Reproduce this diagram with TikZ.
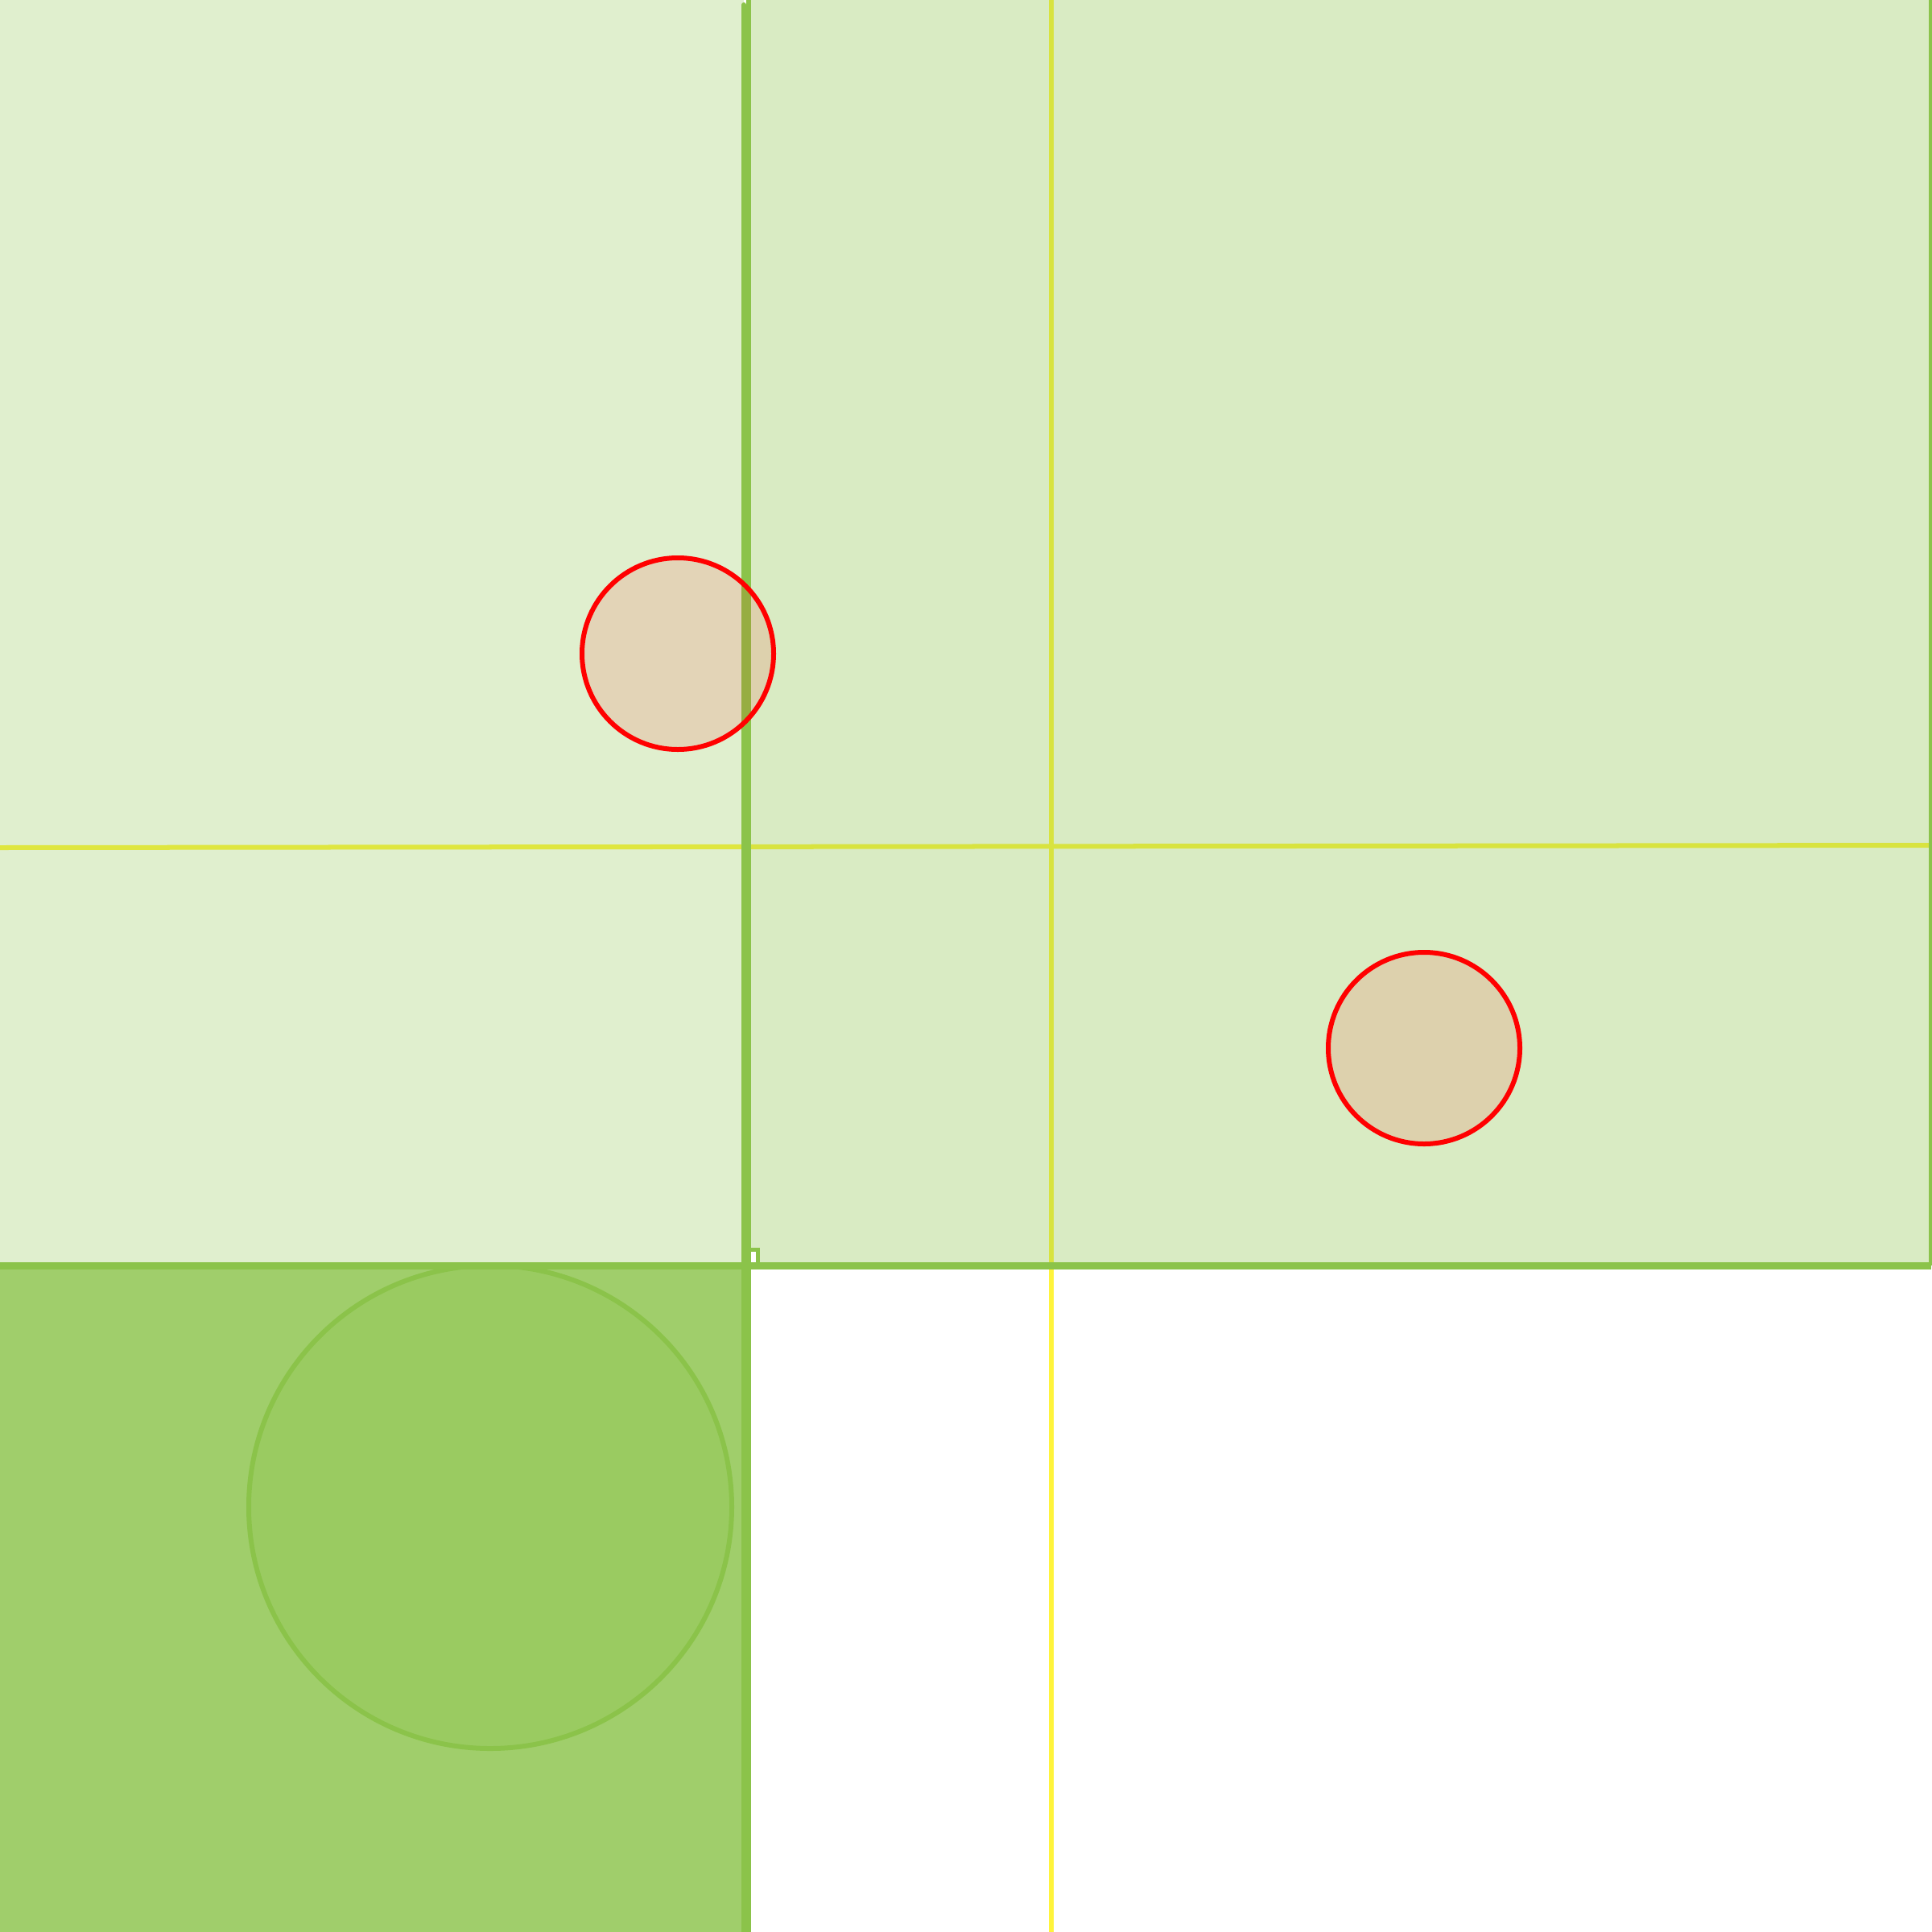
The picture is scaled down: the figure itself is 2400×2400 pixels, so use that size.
\documentclass[tikz,border=0pt]{standalone}
\definecolor{leafgreen}{HTML}{8BC34A}
\definecolor{sunyellow}{HTML}{FFF43B}

\begin{document}
\begin{tikzpicture}[x=0.01cm, y=-0.01cm,
    wall/.style={draw=leafgreen, line width=0.06cm},
    guide/.style={draw=sunyellow, line width=0.06cm},
    spot/.style={draw=red, line width=0.06cm, fill=red, fill opacity=0.11}]
  \useasboundingbox (0,0) rectangle (2400,2400);

  \coordinate (L) at (924,1572);
  \coordinate (BR) at (2399,1572);

  % guide lines
  \draw[guide] (0,1053) -- (2400,1050);
  \draw[guide] (1306,0) -- (1306,2400);

  % rooms
  \fill[leafgreen, fill opacity=0.27] (0,0) rectangle (L);
  \fill[leafgreen, fill opacity=0.33] (930,0) -- (930,1552) -- (941,1552)
    -- (941,1572) -- (2400,1572) -- (2400,0) -- cycle;
  \fill[leafgreen, fill opacity=0.82] (0,1572) rectangle (924,2400);
  \filldraw[leafgreen, fill opacity=0.28, line width=0.06cm]
    (609,1872) circle[radius=300];

  % walls
  \draw[wall, line cap=round] (924,6) -- (924,2400);
  \draw[wall] (930,0) -- (930,2400);
  \draw[wall, line width=0.09cm] (0,1572) -- (BR);
  \draw[wall] (2399,0) -- (BR);
  \draw[wall, line width=0.05cm] (933,1552) -- (941,1552) -- (941,1572);

  % spots
  \draw[spot] (842,812) circle[radius=119];
  \draw[spot] (1769,1302) circle[radius=119];
\end{tikzpicture}
\end{document}
